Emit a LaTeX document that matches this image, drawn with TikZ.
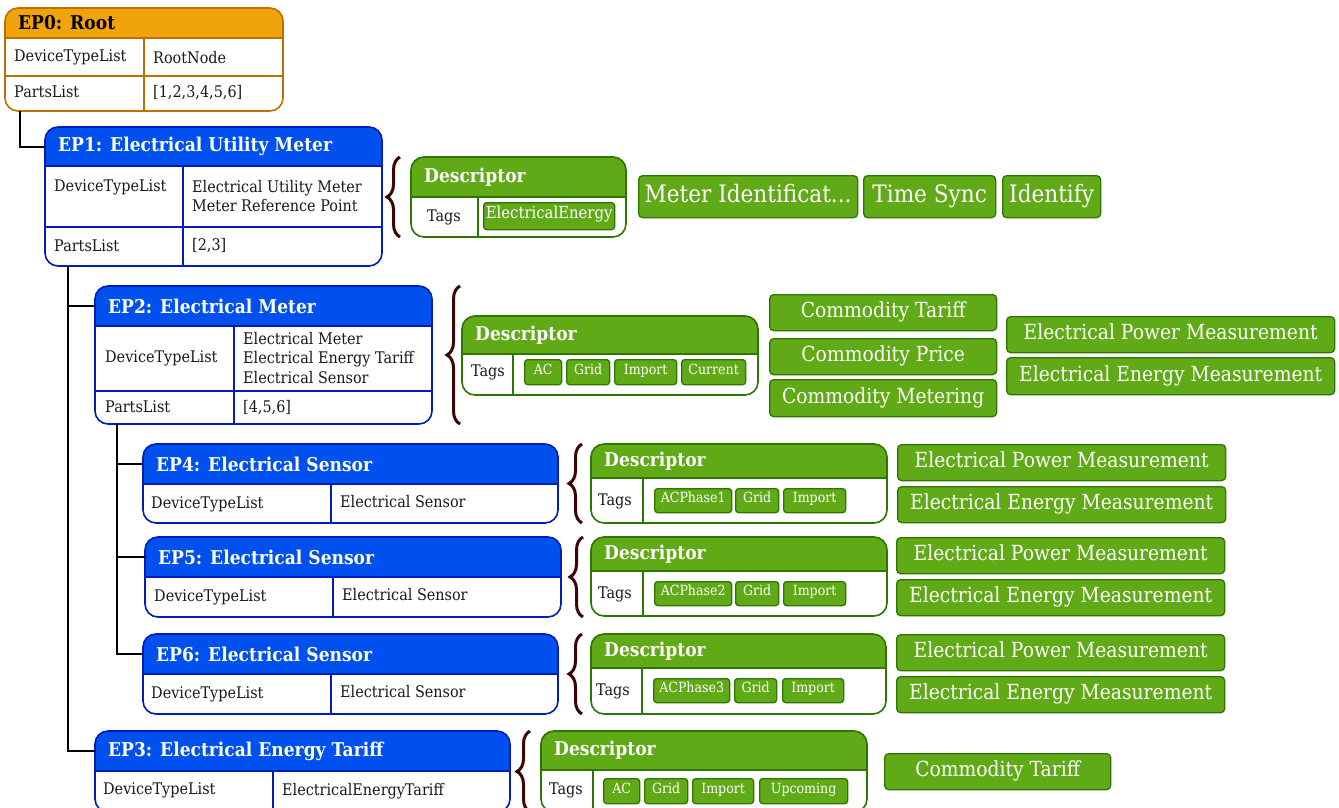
\documentclass[tikz,border=0pt]{standalone}
\usepackage{fontspec}
\setmainfont[FakeStretch=0.9]{DejaVu Serif}
\usetikzlibrary{decorations.pathreplacing}

\definecolor{rootfill}{HTML}{F0A30A}
\definecolor{rootline}{HTML}{BD7000}
\definecolor{epfill}{HTML}{0050EF}
\definecolor{epline}{HTML}{001DBC}
\definecolor{descfill}{HTML}{60A917}
\definecolor{descline}{HTML}{2D7600}
\definecolor{bracecol}{HTML}{3A0606}

\tikzset{cell/.style={anchor=west, inner sep=0pt, text={black!90}, align=left,
   font=\fontsize{16}{19.5}\selectfont},
  eptitle/.style={anchor=west, inner sep=0pt, text=white,
   font=\bfseries\fontsize{19}{22}\selectfont},
  roottitle/.style={eptitle, text=black},
  desctitle/.style={eptitle},
  tagchip/.style={draw=descline, fill=descfill, text=white, rounded corners=3pt,
   line width=1.3pt, inner sep=0pt, anchor=north west, text height=10pt, text depth=6pt,
   font=\fontsize{14}{16}\selectfont},
  feature/.style={tagchip, rounded corners=4pt, text height=15pt, text depth=5pt,
   font=\fontsize{20.8}{24}\selectfont},
  tree/.style={line width=2pt, black},
  brace/.style={decorate, decoration={brace, amplitude=13pt}, line width=3pt, bracecol}}

% #1 scheme, #2 name, #3-#6 corners, #7 header bottom, #8 title
\newcommand\eppanel[8]{%
  \begin{scope}
    \clip[rounded corners=13pt] (#3,#4) rectangle (#5,#6);
    \fill[white] (#3,#4) rectangle (#5,#6);
    \fill[#1fill] (#3,#4) rectangle (#5,#7);
  \end{scope}
  \draw[#1line, line width=1.6pt, rounded corners=13pt] (#3,#4) rectangle (#5,#6);
  \draw[#1line, line width=1.6pt] (#3,#7) -- (#5,#7);
  \coordinate (#2-in) at (#3,{(#4+#7)/2});
  \node[#1title] (#2-title) at ({#3+13},{(#4+#7)/2}) {#8};}

\begin{document}
\begin{tikzpicture}[x=1pt, y=-1pt]
\clip (0,0) rectangle (1339,807);

\eppanel{root}{ep0}{5}{8}{283}{111}{38}{EP0: Root}
\draw[rootline, line width=1.6pt] (144,38) -- (144,111) (5,76) -- (283,76);
\node[cell] (ep0-k1) at (14,57) {DeviceTypeList};
\node[cell] (ep0-v1) at (153,58) {RootNode};
\node[cell] (ep0-k2) at (14,92) {PartsList};
\node[cell] (ep0-v2) at (153,93) {[1,2,3,4,5,6]};
\coordinate (ep0-out) at (20,111);

\eppanel{ep}{ep1}{45}{127}{382}{266}{166}{EP1: Electrical Utility Meter}
\draw[epline, line width=1.6pt] (183,166) -- (183,266) (45,227) -- (382,227);
\node[cell] (ep1-k1) at (54,187) {DeviceTypeList};
\node[cell] (ep1-v1) at (192,196) {Electrical Utility Meter\\Meter Reference Point};
\node[cell] (ep1-k2) at (54,246) {PartsList};
\node[cell] (ep1-v2) at (192,246) {[2,3]};
\coordinate (ep1-out) at (68,266);

\draw[brace] (400,237) -- (400,157);
\eppanel{desc}{d1}{411}{157}{626}{237}{197}{Descriptor}
\draw[descline, line width=1.6pt] (478,197) -- (478,237);
\node[cell, anchor=center] (d1-k) at (444,217) {Tags};
\node[tagchip, font=\fontsize{16.5}{18}\selectfont, minimum width=131, minimum height=27] (d1-c1) at (483,202) {ElectricalEnergy};

\node[feature, font=\fontsize{24}{28}\selectfont, text height=17pt, minimum width=219, minimum height=42] (f1-a) at (638,175) {Meter Identificat...};
\node[feature, font=\fontsize{24}{28}\selectfont, text height=17pt, minimum width=132, minimum height=42] (f1-b) at (863,175) {Time Sync};
\node[feature, font=\fontsize{24}{28}\selectfont, text height=17pt, minimum width=98, minimum height=42] (f1-c) at (1002,175) {Identify};

\eppanel{ep}{ep2}{95}{286}{432}{424}{326}{EP2: Electrical Meter}
\draw[epline, line width=1.6pt] (234,326) -- (234,424) (95,391) -- (432,391);
\node[cell] (ep2-k1) at (105,358) {DeviceTypeList};
\node[cell] (ep2-v1) at (243,358) {Electrical Meter\\Electrical Energy Tariff\\Electrical Sensor};
\node[cell] (ep2-k2) at (105,407) {PartsList};
\node[cell] (ep2-v2) at (243,408) {[4,5,6]};
\coordinate (ep2-out) at (117,424);

\draw[brace] (460,424) -- (460,286);
\eppanel{desc}{d2}{462}{316}{758}{395}{354}{Descriptor}
\draw[descline, line width=1.6pt] (513,354) -- (513,395);
\node[cell, anchor=center] (d2-k) at (488,372) {Tags};
\node[tagchip, minimum width=37, minimum height=25] (d2-c1) at (524,359) {AC};
\node[tagchip, minimum width=43, minimum height=25] (d2-c2) at (566,359) {Grid};
\node[tagchip, minimum width=62, minimum height=25] (d2-c3) at (614,359) {Import};
\node[tagchip, minimum width=64, minimum height=25] (d2-c4) at (681,359) {Current};

\node[feature, minimum width=227, minimum height=36] (f2-a) at (769,294) {Commodity Tariff};
\node[feature, minimum width=227, minimum height=36] (f2-b) at (769,338) {Commodity Price};
\node[feature, minimum width=227, minimum height=37] (f2-c) at (769,379) {Commodity Metering};
\node[feature, minimum width=328, minimum height=36] (f2-d) at (1006,316) {Electrical Power Measurement};
\node[feature, minimum width=328, minimum height=37] (f2-e) at (1006,357) {Electrical Energy Measurement};

\eppanel{ep}{ep4}{143}{444}{558}{523}{484}{EP4: Electrical Sensor}
\draw[epline, line width=1.6pt] (331,484) -- (331,523);
\node[cell] (ep4-k1) at (151,504) {DeviceTypeList};
\node[cell] (ep4-v1) at (340,502) {Electrical Sensor};

\draw[brace] (582,523) -- (582,444);
\eppanel{desc}{d4}{591}{444}{887}{523}{478}{Descriptor}
\draw[descline, line width=1.6pt] (643,478) -- (643,523);
\node[cell, anchor=center] (d4-k) at (615,501) {Tags};
\node[tagchip, minimum width=77, minimum height=24] (d4-c1) at (654,488) {ACPhase1};
\node[tagchip, minimum width=43, minimum height=24] (d4-c2) at (735,488) {Grid};
\node[tagchip, minimum width=62, minimum height=24] (d4-c3) at (783,488) {Import};

\node[feature, minimum width=328, minimum height=36] (f4-a) at (897,444) {Electrical Power Measurement};
\node[feature, minimum width=328, minimum height=36] (f4-b) at (897,486) {Electrical Energy Measurement};

\eppanel{ep}{ep5}{145}{537}{561}{617}{577}{EP5: Electrical Sensor}
\draw[epline, line width=1.6pt] (333,577) -- (333,617);
\node[cell] (ep5-k1) at (154,597) {DeviceTypeList};
\node[cell] (ep5-v1) at (342,595) {Electrical Sensor};

\draw[brace] (583,617) -- (583,537);
\eppanel{desc}{d5}{591}{537}{887}{616}{571}{Descriptor}
\draw[descline, line width=1.6pt] (643,571) -- (643,616);
\node[cell, anchor=center] (d5-k) at (615,594) {Tags};
\node[tagchip, minimum width=77, minimum height=24] (d5-c1) at (654,581) {ACPhase2};
\node[tagchip, minimum width=43, minimum height=24] (d5-c2) at (735,581) {Grid};
\node[tagchip, minimum width=62, minimum height=24] (d5-c3) at (783,581) {Import};

\node[feature, minimum width=328, minimum height=36] (f5-a) at (896,537) {Electrical Power Measurement};
\node[feature, minimum width=328, minimum height=36] (f5-b) at (896,579) {Electrical Energy Measurement};

\eppanel{ep}{ep6}{143}{634}{558}{714}{674}{EP6: Electrical Sensor}
\draw[epline, line width=1.6pt] (331,674) -- (331,714);
\node[cell] (ep6-k1) at (151,694) {DeviceTypeList};
\node[cell] (ep6-v1) at (340,692) {Electrical Sensor};

\draw[brace] (582,714) -- (582,634);
\eppanel{desc}{d6}{591}{634}{886}{714}{668}{Descriptor}
\draw[descline, line width=1.6pt] (642,668) -- (642,714);
\node[cell, anchor=center] (d6-k) at (613,691) {Tags};
\node[tagchip, minimum width=76, minimum height=24] (d6-c1) at (653,678) {ACPhase3};
\node[tagchip, minimum width=42, minimum height=24] (d6-c2) at (734,678) {Grid};
\node[tagchip, minimum width=61, minimum height=24] (d6-c3) at (782,678) {Import};

\node[feature, minimum width=328, minimum height=36] (f6-a) at (896,634) {Electrical Power Measurement};
\node[feature, minimum width=328, minimum height=36] (f6-b) at (896,676) {Electrical Energy Measurement};

\eppanel{ep}{ep3}{95}{731}{510}{812}{771}{EP3: Electrical Energy Tariff}
\draw[epline, line width=1.6pt] (273,771) -- (273,812);
\node[cell] (ep3-k1) at (103,790) {DeviceTypeList};
\node[cell] (ep3-v1) at (282,791) {ElectricalEnergyTariff};

\draw[brace] (530,812) -- (530,731);
\eppanel{desc}{d3}{541}{731}{867}{812}{770}{Descriptor}
\draw[descline, line width=1.6pt] (593,770) -- (593,812);
\node[cell, anchor=center] (d3-k) at (566,790) {Tags};
\node[tagchip, minimum width=36, minimum height=25] (d3-c1) at (603,778) {AC};
\node[tagchip, minimum width=43, minimum height=25] (d3-c2) at (644,778) {Grid};
\node[tagchip, minimum width=61, minimum height=25] (d3-c3) at (692,778) {Import};
\node[tagchip, minimum width=88, minimum height=25] (d3-c4) at (759,778) {Upcoming};

\node[feature, minimum width=226, minimum height=36] (f3-a) at (884,753) {Commodity Tariff};

\draw[tree] (ep0-out) |- (ep1-in);
\draw[tree] (ep1-out) |- (ep3-in);
\draw[tree] (ep1-out |- ep2-in) -- (ep2-in);
\draw[tree] (ep2-out) |- (ep6-in);
\draw[tree] (ep2-out |- ep4-in) -- (ep4-in);
\draw[tree] (ep2-out |- ep5-in) -- (ep5-in);
\end{tikzpicture}
\end{document}
